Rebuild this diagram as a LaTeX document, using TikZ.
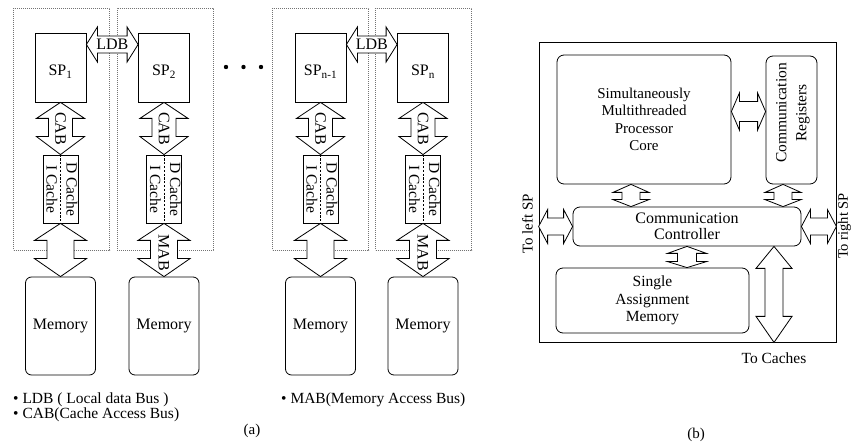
\documentclass[tikz,border=0pt]{standalone}
\usepackage{fontspec}
\setmainfont{Liberation Serif}
\usetikzlibrary{calc}
% vertical fat double arrow: top point, bottom point, head half-width, shaft half-width, top head length, bottom head length
\newcommand\vbus[6]{\draw[bus] (#1) -- ($(#1)+(#3,#5)$) -- ($(#1)+(#4,#5)$) -- ($(#2)+(#4,-#6)$) -- ($(#2)+(#3,-#6)$) -- (#2) -- ($(#2)+(-#3,-#6)$) -- ($(#2)+(-#4,-#6)$) -- ($(#1)+(-#4,#5)$) -- ($(#1)+(-#3,#5)$) -- cycle;}
% horizontal fat double arrow: left point, right point, head half-height, shaft half-height, left head length, right head length
\newcommand\hbus[6]{\draw[bus] (#1) -- ($(#1)+(#5,-#3)$) -- ($(#1)+(#5,-#4)$) -- ($(#2)+(-#6,-#4)$) -- ($(#2)+(-#6,-#3)$) -- (#2) -- ($(#2)+(-#6,#3)$) -- ($(#2)+(-#6,#4)$) -- ($(#1)+(#5,#4)$) -- ($(#1)+(#5,#3)$) -- cycle;}
\begin{document}
\begin{tikzpicture}[x=1pt,y=-1pt,
  box/.style={draw, line width=0.8pt, inner sep=0pt, align=center},
  rbox/.style={box, rounded corners=7pt},
  bus/.style={draw, fill=white, line width=0.8pt, line join=miter},
  grp/.style={draw=black!55, line width=0.6pt, dash pattern=on 0.6pt off 1.4pt, inner sep=0pt, minimum width=96pt, minimum height=242pt},
  txt/.style={font=\fontsize{15}{18}\selectfont, inner sep=0pt, align=center},
  ltxt/.style={font=\fontsize{16}{18}\selectfont, inner sep=0pt, align=center},
  spbox/.style={box, minimum width=51pt, minimum height=69pt},
  cachebox/.style={box, minimum width=35pt, minimum height=68pt},
  membox/.style={box, rounded corners=6pt, minimum width=70pt, minimum height=98pt},
  divider/.style={line width=0.7pt, dash pattern=on 2.2pt off 1.6pt}
]
\useasboundingbox (0,0) rectangle (852,443);

% ---------------- panel (a) ----------------
\foreach \i/\x/\gx/\lab in {1/60.5/61.5/1, 2/164/165/2, 3/320.5/320.5/{n-1}, 4/423/423.5/n}{
  \node[grp] (g\i) at (\gx,129) {};
  \node[spbox] (sp\i) at (\x,67.5) {};
  \node[ltxt] (spt\i) at ($(sp\i.center)+(0,4)$) {SP\textsubscript{\lab}};
  \node[cachebox] (ca\i) at (\x,189) {};
  \draw[divider] (ca\i.north) -- (ca\i.south);
  \node[ltxt, font=\fontsize{15.5}{20}\selectfont] (cat\i) at (ca\i.center) {\rotatebox{-90}{\begin{tabular}{@{}c@{}}D Cache\\I Cache\end{tabular}}};
  \node[membox, font=\fontsize{16}{18}\selectfont] (me\i) at (\x,326) {Memory};
  \vbus{sp\i.south}{ca\i.north}{24}{12}{16}{18}
  \node[ltxt, rotate=-90] (cab\i) at ($(sp\i.south)!0.5!(ca\i.north)$) {CAB};
  \vbus{ca\i.south}{me\i.north}{26}{13.5}{17}{18}
}
\node[ltxt, rotate=-90] (mab2) at ($(ca2.south)!0.5!(me2.north)+(0,3)$) {MAB};
\node[ltxt, rotate=-90] (mab4) at ($(ca4.south)!0.5!(me4.north)+(0,3)$) {MAB};

% local data buses
\coordinate (ldA1) at ($(sp1.east)+(0,-23)$);
\coordinate (ldA2) at (sp2.west |- ldA1);
\hbus{ldA1}{ldA2}{17.5}{8.5}{11}{11}
\node[ltxt] (ldb1) at ($(ldA1)!0.5!(ldA2)$) {LDB};
\coordinate (ldB1) at ($(sp3.east)+(0,-23)$);
\coordinate (ldB2) at (sp4.west |- ldB1);
\hbus{ldB1}{ldB2}{17.5}{8.5}{11}{11}
\node[ltxt] (ldb2) at ($(ldB1)!0.5!(ldB2)$) {LDB};

% ellipsis
\foreach \dx in {226,243.5,261}{ \fill (\dx,67) circle (2.2pt); }

% legend
\node[ltxt, font=\fontsize{15.5}{18}\selectfont, anchor=base west] (lg1) at (13,404) {• LDB ( Local data Bus )};
\node[ltxt, font=\fontsize{15.5}{18}\selectfont, anchor=base west] (lg2) at (13,418.5) {• CAB(Cache Access Bus)};
\node[ltxt, font=\fontsize{15.5}{18}\selectfont, anchor=base west] (lg3) at (281,404) {• MAB(Memory Access Bus)};
\node[txt] (capa) at (252,431) {(a)};

% ---------------- panel (b) ----------------
\node[box, minimum width=297pt, minimum height=300pt] (outer) at (687.5,192) {};
\node[rbox, minimum width=174pt, minimum height=129pt, font=\fontsize{15}{17.5}\selectfont] (core) at (644,119.5) {Simultaneously\\Multithreaded\\Processor\\Core};
\node[rbox, minimum width=51pt, minimum height=128pt] (reg) at (791.5,120) {};
\node[txt, rotate=90, font=\fontsize{15.5}{20}\selectfont] (regt) at ($(reg.center)+(1.5,-7)$) {Communication\\Registers};
\node[rbox, minimum width=228pt, minimum height=39pt, font=\fontsize{16}{16}\selectfont] (ctrl) at (687,226.5) {Communication\\Controller};
\node[rbox, minimum width=193pt, minimum height=65pt, font=\fontsize{15.5}{17.5}\selectfont] (sam) at (652.5,300.5) {Single\\Assignment\\Memory};

% core <-> registers
\coordinate (h1) at ($(core.east)+(0,-8)$);
\coordinate (h2) at (reg.west |- h1);
\hbus{h1}{h2}{18.5}{10}{8}{8}
% core <-> controller
\coordinate (c1) at ($(core.south)+(-13,0)$);
\coordinate (c2) at (ctrl.north -| c1);
\vbus{c1}{c2}{18}{9}{8}{7}
% registers <-> controller
\coordinate (r1) at ($(reg.south)+(-8.5,0)$);
\coordinate (r2) at (ctrl.north -| r1);
\vbus{r1}{r2}{18}{9}{8}{7}
% controller <-> memory
\coordinate (s1) at (ctrl.south);
\coordinate (s2) at (sam.north -| s1);
\vbus{s1}{s2}{19.5}{9.5}{7}{6}
% to left / right SP
\coordinate (lf) at (outer.west |- ctrl.west);
\hbus{lf}{ctrl.west}{17}{8.5}{9}{9}
\coordinate (rt) at (outer.east |- ctrl.east);
\hbus{ctrl.east}{rt}{17}{8.5}{9}{9}
% to caches
\coordinate (k1) at ($(ctrl.south)+(87,0)$);
\coordinate (k2) at (outer.south -| k1);
\vbus{k1}{k2}{18}{9}{22}{26}

\node[txt, rotate=90] (tl) at (527.5,224) {To left SP};
\node[txt, rotate=90, font=\fontsize{14.5}{17}\selectfont] (tr) at (844.5,226) {To right SP};
\node[txt, font=\fontsize{15.5}{18}\selectfont] (tc) at (774,358) {To Caches};
\node[txt] (capb) at (696,435) {(b)};
\end{tikzpicture}
\end{document}
